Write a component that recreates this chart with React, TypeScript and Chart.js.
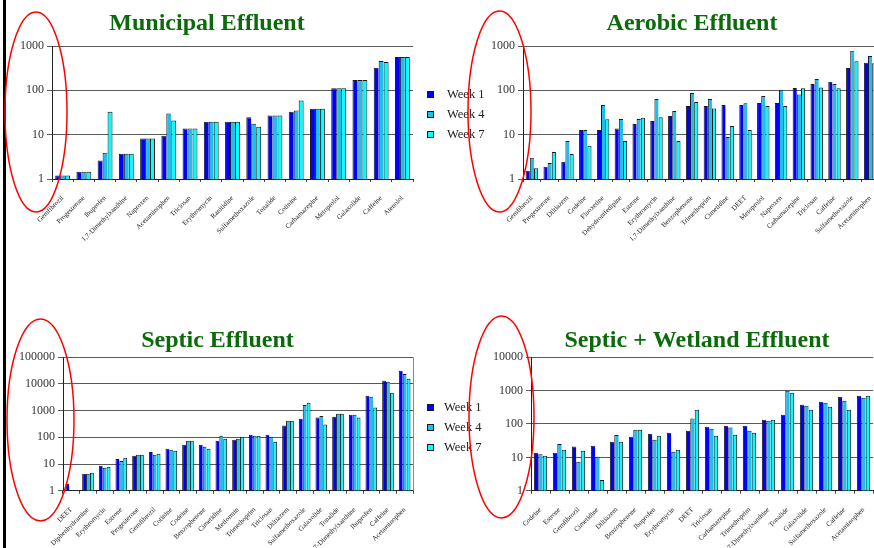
import React, { useEffect, useRef } from "react";
import { Chart, registerables } from "chart.js";
Chart.register(...registerables);

const seriesNames = ["Week 1", "Week 4", "Week 7"];
const seriesColors = ["#0000ff", "#1ebff0", "#00ffff"];

const municipalLabels = ["Gemfibrozil", "Progesterone", "Ibuprofen", "1,7-Dimethylxanthine", "Naproxen", "Acetaminophen", "Triclosan", "Erythromycin", "Ranitidine", "Sulfamethoxazole", "Tonalide", "Cotinine", "Carbamazepine", "Metoprolol", "Galaxolide", "Caffeine", "Atenolol"];
const municipalWeek1 = [1.2, 1.45, 2.6, 3.7, 8.2, 9.5, 13.7, 19.5, 19.5, 24.6, 27, 33, 38.6, 112, 170, 324, 565];
const municipalWeek4 = [1.2, 1.45, 3.9, 3.7, 8.2, 30, 13.7, 19.5, 19.5, 17.7, 27, 35, 38.6, 112, 170, 458, 565];
const municipalWeek7 = [1.2, 1.45, 33, 3.7, 8.2, 21, 13.7, 19.5, 19.5, 15, 27, 59, 38.6, 112, 170, 435, 565];

const aerobicLabels = ["Gemfibrozil", "Progesterone", "Diltiazem", "Codeine", "Fluoxetine", "Dehydronifedipine", "Estrone", "Erythromycin", "1,7-Dimethylxanthine", "Benzophenone", "Trimethoprim", "Cimetidine", "DEET", "Metoprolol", "Naproxen", "Carbamazepine", "Triclosan", "Caffeine", "Sulfamethoxazole", "Acetaminophen"];
const aerobicWeek1 = [1.54, 1.9, 2.46, 12.7, 12.7, 13.7, 17.4, 20.3, 26.4, 44.5, 44.5, 46.6, 46.6, 51.7, 51.7, 113, 139, 157, 318, 420];
const aerobicWeek4 = [3.0, 2.3, 7.2, 12.7, 46.6, 22.5, 22.5, 63.5, 34, 87, 63.5, 8.9, 51, 74.4, 103, 81, 180, 139, 780, 595];
const aerobicWeek7 = [1.74, 4.06, 3.66, 5.65, 22.2, 7.2, 24.2, 24.6, 7.2, 54.6, 39, 15.7, 12.7, 44.5, 44.5, 111, 116, 111, 450, 407];

const septicLabels = ["DEET", "Diphenhydramine", "Erythromycin", "Estrone", "Progesterone", "Gemfibrozil", "Cotinine", "Codeine", "Benzophenone", "Cimetidine", "Metformin", "Trimethoprim", "Triclosan", "Diltiazem", "Sulfamethoxazole", "Galaxolide", "Tonalide", "1,7-Dimethylxanthine", "Ibuprofen", "Caffeine", "Acetaminophen"];
const septicWeek1 = [1.83, 4.3, 8.7, 15.4, 20.5, 28.2, 37.6, 53, 53, 75, 82, 126, 126, 275, 500, 550, 595, 710, 3650, 13300, 31600];
const septicWeek4 = [null, 4.3, 7.3, 13, 22.4, 22.4, 34.5, 75, 44.7, 115, 89, 115, 106, 422, 1630, 630, 770, 710, 3350, 12200, 23700];
const septicWeek7 = [null, 4.7, 7.9, 17.3, 22.4, 24.4, 31.6, 75, 37.6, 89, 106, 115, 69, 422, 1990, 300, 770, 550, 1300, 4730, 15800];

const wetlandLabels = ["Codeine", "Estrone", "Gemfibrozil", "Cimetidine", "Diltiazem", "Benzophenone", "Ibuprofen", "Erythromycin", "DEET", "Triclosan", "Carbamazepine", "Trimethoprim", "1,7-Dimethylxanthine", "Tonalide", "Galaxolide", "Sulfamethoxazole", "Caffeine", "Acetaminophen"];
const wetlandWeek1 = [13.8, 13.8, 21, 22.4, 29.5, 41.7, 51.3, 55, 63, 83, 89, 89, 135, 190, 380, 468, 660, 708];
const wetlandWeek4 = [12.3, 25, 7.4, 10.5, 46.8, 67.6, 33.9, 14.8, 145, 72, 78, 63, 126, 1000, 355, 437, 500, 617];
const wetlandWeek7 = [11.2, 17, 15.8, 2.1, 29.5, 67.6, 44.7, 17, 269, 44.7, 48, 55, 135, 870, 269, 331, 269, 708];

const ticks1000 = [1, 10, 100, 1000];
const ticks10000 = [1, 10, 100, 1000, 10000];
const ticks100000 = [1, 10, 100, 1000, 10000, 100000];

const SERIF = "'Liberation Serif', 'Times New Roman', serif";
const TITLE_COLOR = "#0b6b0b";

type Spec = {
  title: string;
  labels: string[];
  series: (number | null)[][];
  yTicks: number[];
  left: number;
  top: number;
  width: number;
  height: number;
  yW: number;
  rightSpace: number;
  xH: number;
  titlePad: { top: number; bottom: number };
  rightBorder?: boolean;
};

const panels: Spec[] = [
  {
    title: "Municipal Effluent",
    labels: municipalLabels,
    series: [municipalWeek1, municipalWeek4, municipalWeek7],
    yTicks: ticks1000,
    left: -9, top: 0, width: 432, height: 280,
    yW: 61, rightSpace: 10, xH: 101,
    titlePad: { top: 9.1, bottom: 8.1 },
  },
  {
    title: "Aerobic Effluent",
    labels: aerobicLabels,
    series: [aerobicWeek1, aerobicWeek4, aerobicWeek7],
    yTicks: ticks1000,
    left: 460, top: 0, width: 464, height: 280,
    yW: 63, rightSpace: 45, xH: 101,
    titlePad: { top: 9.1, bottom: 8.1 },
  },
  {
    title: "Septic Effluent",
    labels: septicLabels,
    series: [septicWeek1, septicWeek4, septicWeek7],
    yTicks: ticks100000,
    left: 0, top: 300, width: 435, height: 248,
    yW: 63, rightSpace: 22, xH: 57.3,
    titlePad: { top: 26, bottom: 2.5 },
    rightBorder: true,
  },
  {
    title: "Septic + Wetland Effluent",
    labels: wetlandLabels,
    series: [wetlandWeek1, wetlandWeek4, wetlandWeek7],
    yTicks: ticks10000,
    left: 470, top: 300, width: 454, height: 248,
    yW: 61, rightSpace: 51, xH: 57.3,
    titlePad: { top: 26, bottom: 2.5 },
  },
];

const rightBorderPlugin = {
  id: "rightBorder",
  afterDraw(chart: any, _args: any, opts: any) {
    if (!opts || !opts.show) return;
    const { ctx, chartArea } = chart;
    ctx.save();
    ctx.strokeStyle = "#8a8a8a";
    ctx.lineWidth = 1;
    ctx.beginPath();
    const x = Math.round(chartArea.right) + 0.5;
    ctx.moveTo(x, chartArea.top);
    ctx.lineTo(x, chartArea.bottom);
    ctx.stroke();
    ctx.restore();
  },
};

function Panel({ spec }: { spec: Spec }) {
  const ref = useRef<HTMLCanvasElement>(null);
  useEffect(() => {
    if (!ref.current) return;
    const borders = [
      { top: 1, left: 1, right: 0, bottom: 0 },
      { top: 1, left: 1, right: 0, bottom: 0 },
      { top: 1, left: 1, right: 1, bottom: 0 },
    ];
    const chart = new Chart(ref.current, {
      type: "bar",
      data: {
        labels: spec.labels,
        datasets: spec.series.map((d, i) => ({
          label: seriesNames[i],
          data: d,
          backgroundColor: seriesColors[i],
          borderColor: "#1a1a1a",
          borderWidth: borders[i],
          borderSkipped: false,
          categoryPercentage: 0.7,
          barPercentage: 1.0,
          yAxisID: "y",
        })),
      },
      plugins: [rightBorderPlugin],
      options: {
        responsive: false,
        animation: false,
        events: [],
        layout: { padding: 0 },
        plugins: {
          legend: { display: false },
          tooltip: { enabled: false },
          title: {
            display: true,
            text: spec.title,
            color: TITLE_COLOR,
            font: { family: SERIF, size: 24, weight: "bold" },
            padding: spec.titlePad,
          },
          rightBorder: { show: !!spec.rightBorder },
        } as any,
        scales: {
          x: {
            type: "category",
            offset: true,
            grid: {
              display: true,
              drawOnChartArea: false,
              drawTicks: true,
              tickLength: 3,
              color: "#444",
              offset: true,
            },
            border: { display: true, color: "#222", width: 1 },
            ticks: {
              autoSkip: false,
              maxRotation: 45,
              minRotation: 45,
              padding: 12,
              color: "#222",
              font: { family: SERIF, size: 7 },
            },
            afterFit: (scale: any) => {
              scale.height = spec.xH;
            },
          },
          y: {
            type: "logarithmic",
            position: "left",
            min: spec.yTicks[0],
            max: spec.yTicks[spec.yTicks.length - 1],
            grid: {
              color: "#5a5a5a",
              lineWidth: 1,
              drawTicks: true,
              tickLength: 5,
            },
            border: { display: true, color: "#222", width: 1 },
            ticks: {
              autoSkip: false,
              padding: 3,
              color: "#333",
              font: { family: SERIF, size: 12 },
              callback: (v: any) => String(v),
            },
            afterBuildTicks: (scale: any) => {
              scale.ticks = spec.yTicks.map((v) => ({ value: v }));
            },
            afterFit: (scale: any) => {
              scale.width = spec.yW;
            },
          },
          legendSpace: {
            type: "linear",
            position: "right",
            display: true,
            grid: { display: false, drawTicks: false },
            border: { display: false },
            ticks: { display: false },
            afterFit: (scale: any) => {
              scale.width = spec.rightSpace;
            },
          },
        },
      },
    } as any);
    return () => chart.destroy();
  }, [spec]);
  return (
    <canvas
      ref={ref}
      width={spec.width}
      height={spec.height}
      style={{ position: "absolute", left: spec.left, top: spec.top, width: spec.width, height: spec.height }}
    />
  );
}

function Legend({ boxLeft, textLeft, centers }: { boxLeft: number; textLeft: number; centers: number[] }) {
  return (
    <>
      {seriesNames.map((name, i) => (
        <React.Fragment key={name}>
          <div
            style={{
              position: "absolute",
              left: boxLeft,
              top: centers[i] - 3.5,
              width: 7,
              height: 7,
              boxSizing: "border-box",
              border: "1px solid #1a1a1a",
              background: seriesColors[i],
            }}
          />
          <div
            style={{
              position: "absolute",
              left: textLeft,
              top: centers[i] - 8,
              height: 16,
              lineHeight: "16px",
              fontFamily: SERIF,
              fontSize: 12.5,
              color: "#222",
              whiteSpace: "nowrap",
            }}
          >
            {name}
          </div>
        </React.Fragment>
      ))}
    </>
  );
}

export default function App() {
  return (
    <div
      style={{
        position: "fixed",
        left: 0,
        top: 0,
        width: 874,
        height: 548,
        overflow: "hidden",
        background: "#ffffff",
      }}
    >
      {panels.map((p) => (
        <Panel key={p.title} spec={p} />
      ))}
      <Legend boxLeft={427} textLeft={447} centers={[94, 114, 134]} />
      <Legend boxLeft={427} textLeft={444} centers={[407, 427, 447]} />
      <div style={{ position: "absolute", left: 3, top: 0, width: 3, height: 548, background: "#000" }} />
      <svg
        width={874}
        height={548}
        style={{ position: "absolute", left: 0, top: 0, pointerEvents: "none" }}
      >
        <ellipse cx={36} cy={112} rx={31} ry={100} fill="none" stroke="#ff0000" strokeWidth={1.5} />
        <ellipse cx={499.5} cy={111.5} rx={31.5} ry={100.5} fill="none" stroke="#ff0000" strokeWidth={1.5} />
        <ellipse cx={40.5} cy={420} rx={33.5} ry={101} fill="none" stroke="#ff0000" strokeWidth={1.5} />
        <ellipse cx={501.5} cy={417} rx={32.5} ry={101} fill="none" stroke="#ff0000" strokeWidth={1.5} />
      </svg>
    </div>
  );
}
